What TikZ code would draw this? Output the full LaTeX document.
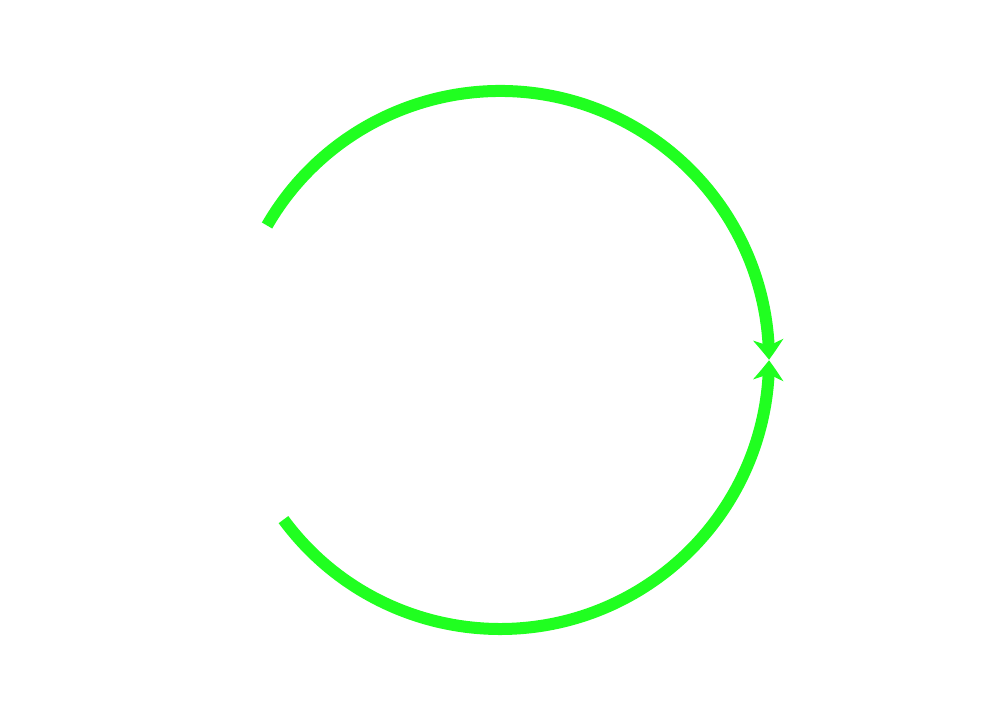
\documentclass[tikz,border=0pt]{standalone}
\usepackage{tikz}
\usetikzlibrary{arrows.meta}
\usetikzlibrary{bending}
\definecolor{loopgreen}{RGB}{32,255,32}

\begin{document}
\begin{tikzpicture}[
        halfloop/.style={draw=loopgreen, line width=0.3cm,
            -{Stealth[length=0.5cm, width=0.75cm, inset=0.15cm, bend]}}
    ]
        \useasboundingbox (0,0) rectangle (25,18);
        \coordinate (O) at (12.5,9);

        % upper half, clockwise to the right
        \path[halfloop] ([shift={(150:6.725)}]O) arc[start angle=150, end angle=0.05, radius=6.725];
        % lower half, counter-clockwise to the right
        \path[halfloop] ([shift={(-143.6:6.725)}]O) arc[start angle=-143.6, end angle=-0.05, radius=6.725];
    \end{tikzpicture}
\end{document}
